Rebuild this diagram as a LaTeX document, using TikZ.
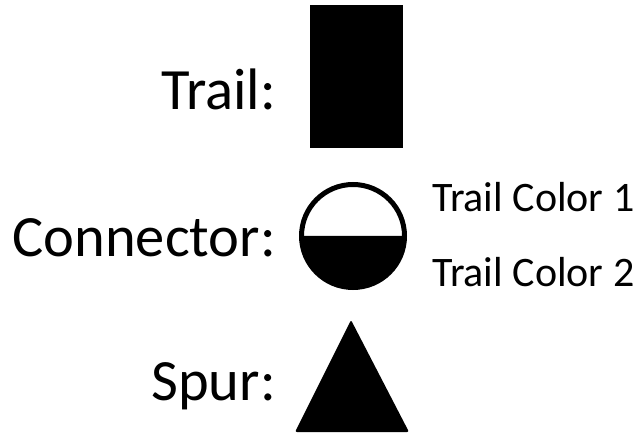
\documentclass[tikz,border=0pt]{standalone}
\usepackage{fontspec}
\setmainfont{Carlito}
\begin{document}
\begin{tikzpicture}[x=1pt, y=-1pt,
    biglabel/.style={anchor=base east, inner sep=0pt, font=\fontsize{58.5}{62}\selectfont},
    smalllabel/.style={anchor=base west, inner sep=0pt, font=\fontsize{42}{45}\selectfont}]
            \useasboundingbox (0,0) rectangle (642,435);
            % labels
            \node[biglabel] (trail) at (276,110) {Trail:};
            \node[biglabel] (conn) at (276,257) {Connector:};
            \node[biglabel] (spur) at (276,400) {Spur:};
            \node[smalllabel] (c1) at (432,212) {Trail Color 1};
            \node[smalllabel] (c2) at (432,287) {Trail Color 2};
            % symbols
            \fill (310,5) rectangle (403,148);
            \fill (301,236) arc (180:0:52) -- cycle;
            \draw[line width=5pt] (353,236) circle (51.5);
            \fill[rounded corners=2pt] (351,320) -- (409,432) -- (295,432) -- cycle;
        \end{tikzpicture}
\end{document}
